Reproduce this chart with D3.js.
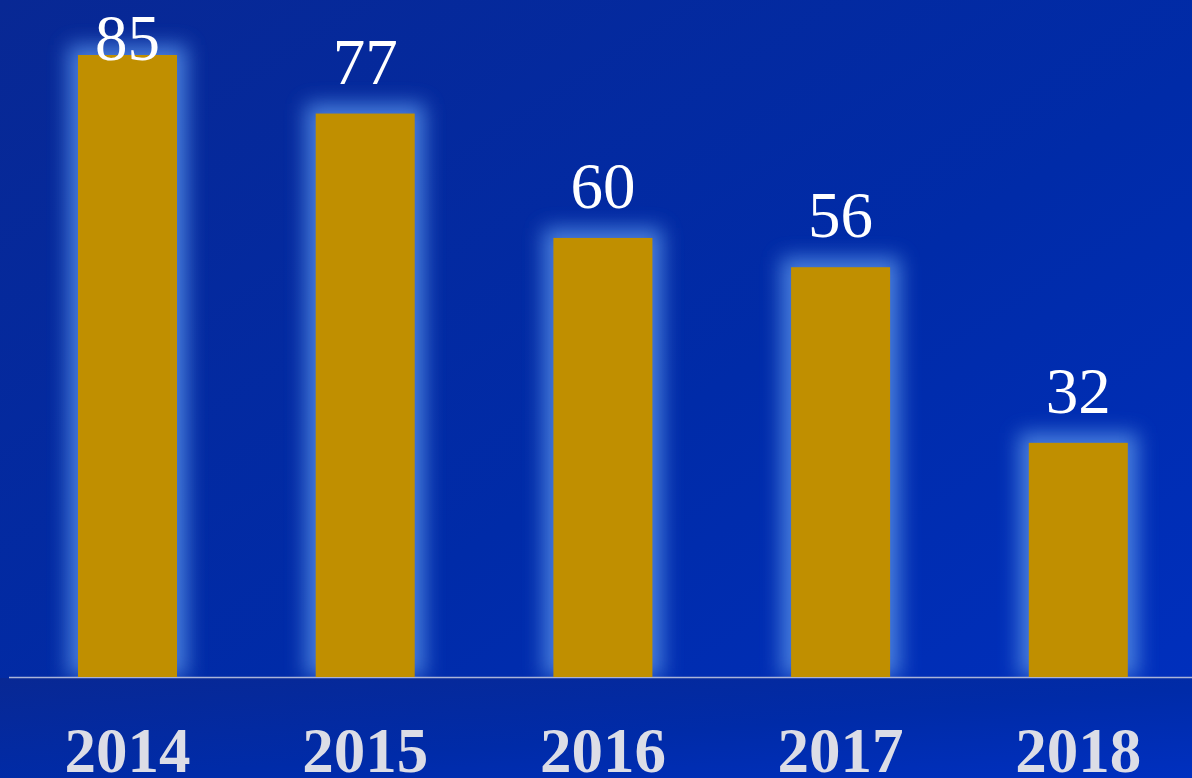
<!DOCTYPE html>
<html>
<head>
<meta charset="utf-8">
<script src="https://cdn.jsdelivr.net/npm/d3@7"></script>
<style>
  html, body { margin: 0; padding: 0; overflow: hidden; }
</style>
</head>
<body>
<svg id="chart" width="1192" height="778"></svg>
<script>
const years = ["2014", "2015", "2016", "2017", "2018"]
const values = [85, 77, 60, 56, 32]

let svg = d3.select("#chart")
let w = +svg.attr("width")
let h = +svg.attr("height")

let defs = svg.append("defs")

let bg = defs.append("linearGradient")
    .attr("id", "bg")
    .attr("x1", "0%").attr("y1", "0%")
    .attr("x2", "100%").attr("y2", "100%")
bg.append("stop").attr("offset", "0%").attr("stop-color", "#082894")
bg.append("stop").attr("offset", "55%").attr("stop-color", "#002ba8")
bg.append("stop").attr("offset", "100%").attr("stop-color", "#0030c0")

let glow = defs.append("filter")
    .attr("id", "glow")
    .attr("x", "-50%").attr("y", "-50%")
    .attr("width", "200%").attr("height", "200%")
glow.append("feGaussianBlur").attr("stdDeviation", 10)

svg.append("rect")
    .attr("width", w)
    .attr("height", h)
    .attr("fill", "url(#bg)")

let x = d3.scaleBand()
    .domain(years)
    .range([8.65, 1197.15])
    .paddingInner(0.5835)
    .paddingOuter(0.5835 / 2)

let baseY = 677
let y = d3.scaleLinear()
    .domain([0, 85])
    .range([baseY, 55])

let data = years.map((d, i) => ({ year: d, value: values[i] }))

// glow behind the bars
svg.append("g").selectAll("rect")
    .data(data)
    .enter()
    .append("rect")
        .attr("x", d => x(d.year) - 10)
        .attr("y", d => y(d.value) - 10)
        .attr("width", x.bandwidth() + 20)
        .attr("height", d => baseY - y(d.value) + 10)
        .attr("fill", "#4f86e2")
        .attr("opacity", 0.9)
        .attr("filter", "url(#glow)")

// cover the area below the baseline so glow stops there
svg.append("rect")
    .attr("x", 0)
    .attr("y", baseY + 1)
    .attr("width", w)
    .attr("height", h - baseY)
    .attr("fill", "url(#bg)")

svg.append("line")
    .attr("x1", 9)
    .attr("x2", w)
    .attr("y1", baseY + 0.5)
    .attr("y2", baseY + 0.5)
    .attr("stroke", "#aab4d8")
    .attr("stroke-width", 1.5)

svg.append("g").selectAll("rect")
    .data(data)
    .enter()
    .append("rect")
        .attr("x", d => x(d.year))
        .attr("y", d => y(d.value))
        .attr("width", x.bandwidth())
        .attr("height", d => baseY - y(d.value))
        .attr("fill", "#c08f00")

// value labels
svg.append("g").selectAll("text")
    .data(data)
    .enter()
    .append("text")
        .attr("x", d => x(d.year) + x.bandwidth() / 2)
        .attr("y", d => Math.max(y(d.value) - 30, 60))
        .attr("text-anchor", "middle")
        .attr("font-family", "'Liberation Serif', 'Times New Roman', serif")
        .attr("font-size", "65px")
        .attr("fill", "#ffffff")
        .text(d => d.value)

// category labels
svg.append("g").selectAll("text")
    .data(data)
    .enter()
    .append("text")
        .attr("x", d => x(d.year) + x.bandwidth() / 2)
        .attr("y", 772)
        .attr("text-anchor", "middle")
        .attr("font-family", "'Liberation Serif', 'Times New Roman', serif")
        .attr("font-weight", "bold")
        .attr("font-size", "63px")
        .attr("fill", "#dcdde6")
        .text(d => d.year)
</script>
</body>
</html>
